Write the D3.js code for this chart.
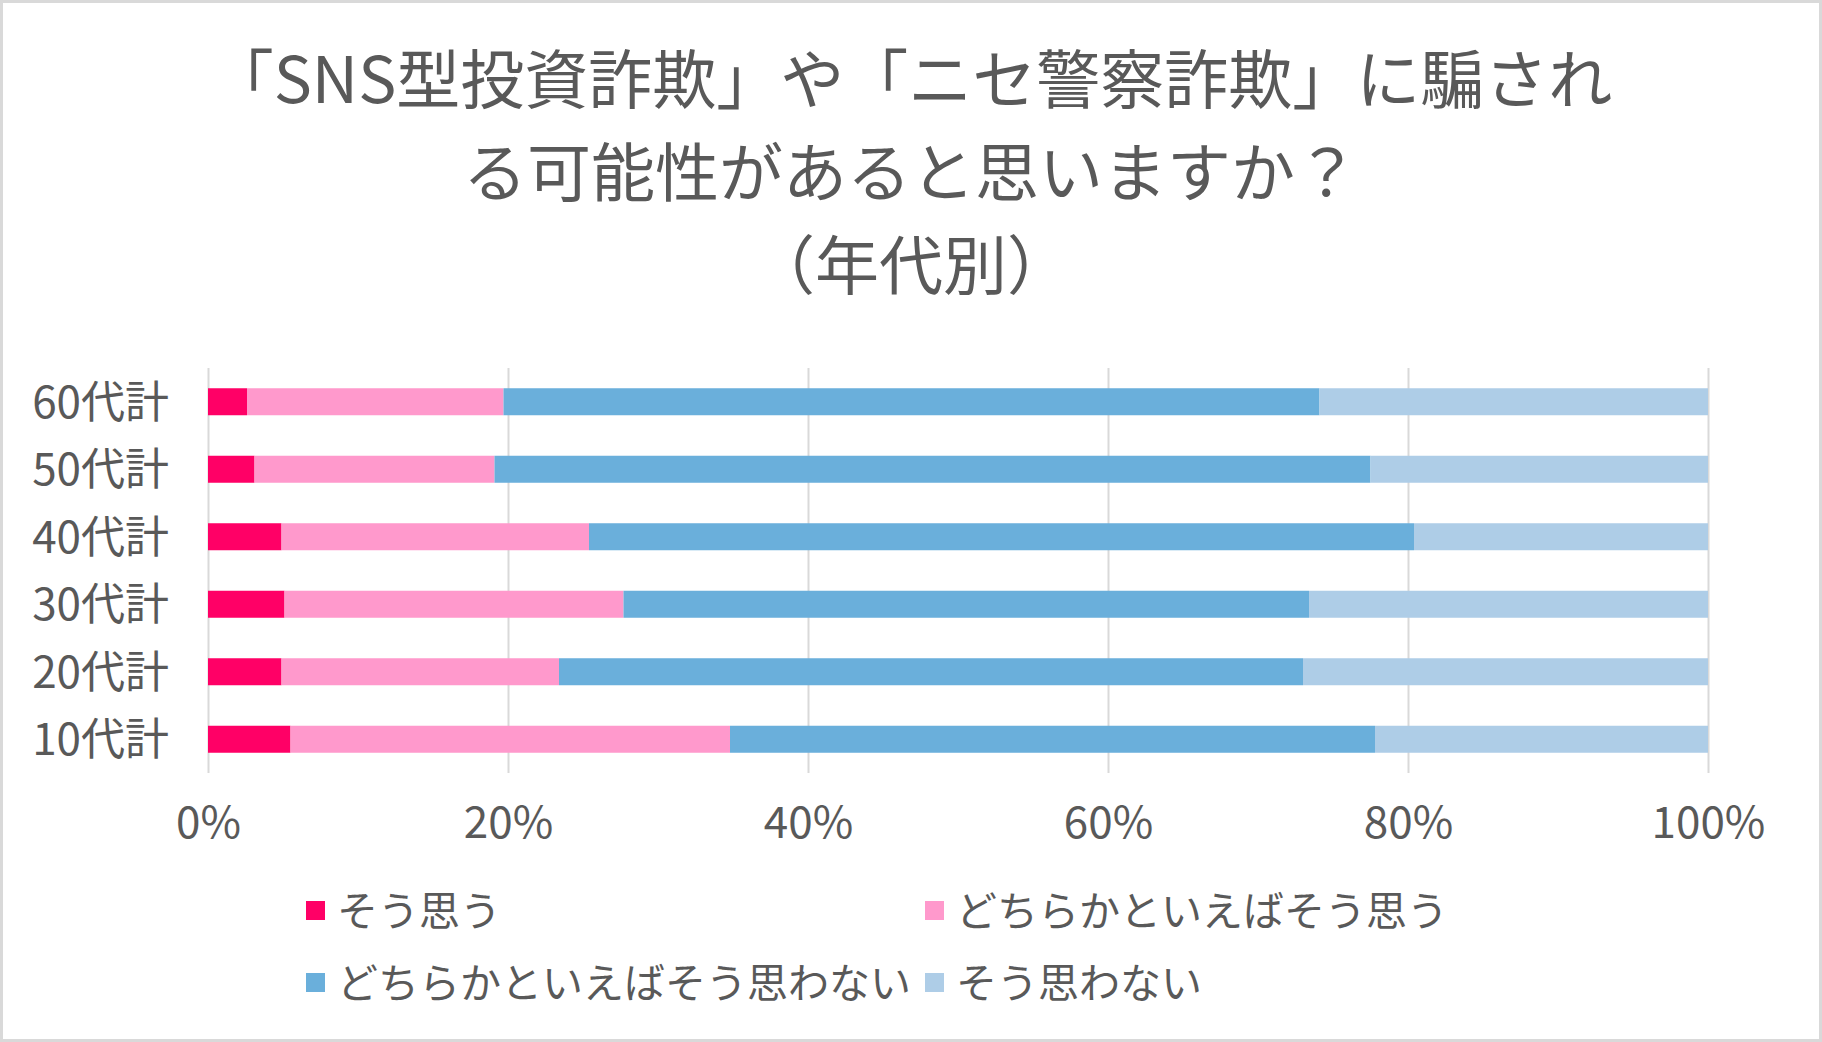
<!DOCTYPE html>
<html>
<head>
<meta charset="utf-8">
<script src="https://cdn.jsdelivr.net/npm/d3@7"></script>
<style>
  body { margin: 0; background: #fff; }
  svg text { font-family: "Noto Sans CJK JP", "Noto Sans", sans-serif; fill: #595959; }
</style>
</head>
<body>
<div id="chart"></div>
<script>
// 年代別 stacked bar (100%)
const categories = ["60代計", "50代計", "40代計", "30代計", "20代計", "10代計"];
const seriesNames = ["そう思う", "どちらかといえばそう思う", "どちらかといえばそう思わない", "そう思わない"];
const soOmou        = [2.6, 3.1, 4.9, 5.1, 4.9, 5.5];
const dochiraOmou   = [17.1, 16.0, 20.5, 22.6, 18.5, 29.3];
const dochiraOmowan = [54.4, 58.4, 55.0, 45.7, 49.6, 43.0];
const soOmowan      = [25.9, 22.5, 19.6, 26.6, 27.0, 22.2];
const xTicks = [0, 20, 40, 60, 80, 100];
const titleLines = ["「SNS型投資詐欺」や「ニセ警察詐欺」に騙され", "る可能性があると思いますか？", "（年代別）"];

const colors = ["#ff0066", "#ff99cc", "#6aafdb", "#aecde7"];

const width = 1822, height = 1042;
const plot = { left: 208, right: 1708, top: 368, bottom: 773 };

const svg = d3.select("#chart").append("svg")
  .attr("width", width)
  .attr("height", height);

// frame
svg.append("rect")
  .attr("x", 1.5).attr("y", 1.5)
  .attr("width", width - 3).attr("height", height - 3)
  .attr("fill", "#fff")
  .attr("stroke", "#d9d9d9")
  .attr("stroke-width", 3);

// title
svg.append("g").selectAll("text")
  .data(titleLines)
  .enter().append("text")
    .attr("x", width / 2)
    .attr("y", (d, i) => 103 + i * 93)
    .attr("text-anchor", "middle")
    .style("font-size", "64px")
    .text(d => d);

const rows = categories.map((c, i) => ({
  cat: c,
  [seriesNames[0]]: soOmou[i],
  [seriesNames[1]]: dochiraOmou[i],
  [seriesNames[2]]: dochiraOmowan[i],
  [seriesNames[3]]: soOmowan[i]
}));

const x = d3.scaleLinear().domain([0, 100]).range([plot.left, plot.right]);
const y = d3.scaleBand().domain(categories).range([plot.top, plot.bottom])
  .paddingInner(0.6).paddingOuter(0.3);
const color = d3.scaleOrdinal().domain(seriesNames).range(colors);

// grid + x labels
const xAxis = svg.append("g")
  .attr("transform", `translate(0,${plot.bottom})`)
  .call(d3.axisBottom(x).tickValues(xTicks).tickSize(-(plot.bottom - plot.top)).tickFormat(d => d + "%"));
xAxis.select(".domain").remove();
xAxis.selectAll(".tick line").attr("stroke", "#d9d9d9").attr("stroke-width", 2);
xAxis.selectAll(".tick text")
  .attr("y", 65).attr("dy", null)
  .style("font-size", "44px");

// bars
const stacked = d3.stack().keys(seriesNames)(rows);
svg.append("g").selectAll("g")
  .data(stacked)
  .enter().append("g")
    .attr("fill", d => color(d.key))
  .selectAll("rect")
  .data(d => d)
  .enter().append("rect")
    .attr("x", d => x(d[0]))
    .attr("width", d => x(d[1]) - x(d[0]))
    .attr("y", d => y(d.data.cat))
    .attr("height", y.bandwidth());

// category labels
svg.append("g").selectAll("text")
  .data(categories)
  .enter().append("text")
    .attr("x", 169)
    .attr("y", d => y(d) + y.bandwidth() / 2)
    .attr("dy", "0.36em")
    .attr("text-anchor", "end")
    .style("font-size", "44px")
    .text(d => d);

// legend (2 columns)
const legendPos = [[306, 911], [925, 911], [306, 983], [925, 983]];
const legend = svg.append("g").selectAll("g")
  .data(seriesNames)
  .enter().append("g")
    .attr("transform", (d, i) => `translate(${legendPos[i][0]},${legendPos[i][1]})`);
legend.append("rect")
  .attr("x", 0).attr("y", -10)
  .attr("width", 19).attr("height", 19)
  .attr("fill", d => color(d));
legend.append("text")
  .attr("x", 31)
  .attr("dy", "0.36em")
  .style("font-size", "41px")
  .text(d => d);
</script>
</body>
</html>
